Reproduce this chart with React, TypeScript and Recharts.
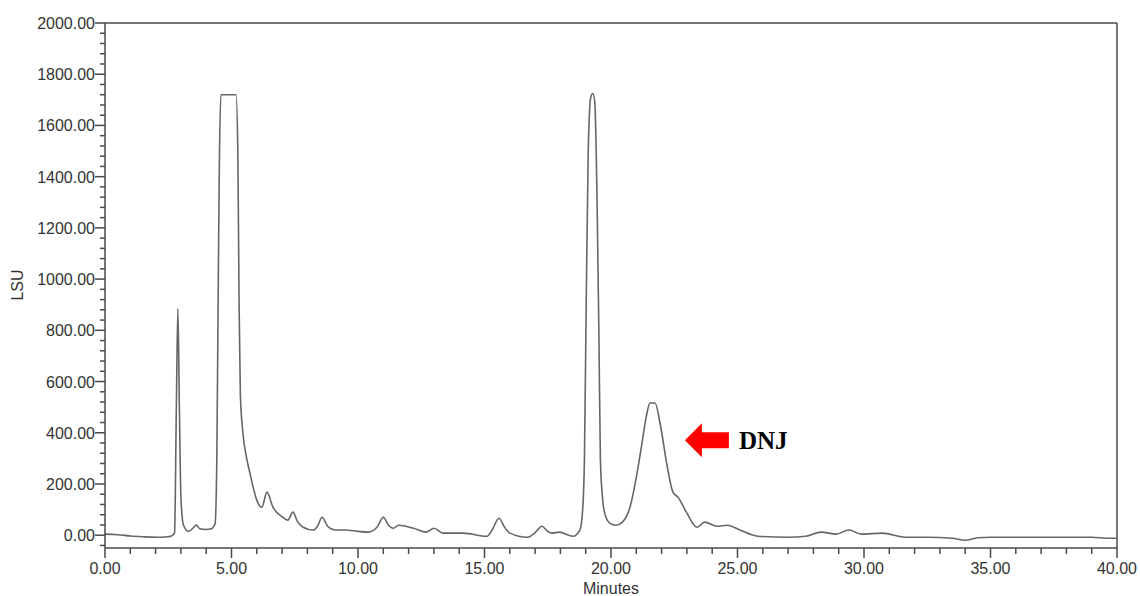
import { LineChart, Line, XAxis, YAxis, ReferenceLine, ReferenceDot } from "recharts";

// retention time (min) and detector response (LSU)
const minutes = [
  0, 0.5, 1, 1.5, 2, 2.4, 2.65, 2.75, 2.82, 2.88, 2.94, 3.0, 3.1, 3.3, 3.5, 3.6, 3.75, 4.0, 4.2, 4.35,
  4.42, 4.47, 4.52, 4.58, 5.18, 5.25, 5.3, 5.35, 5.45, 5.6, 5.73, 5.9, 6.0, 6.2, 6.4, 6.64, 7.03, 7.23,
  7.43, 7.6, 7.83, 8.22, 8.4, 8.58, 8.8, 9.1, 9.5, 10.0, 10.4, 10.75, 11.0, 11.2, 11.4, 11.6, 12.2,
  12.7, 13.0, 13.36, 14.15, 15.1, 15.3, 15.57, 15.8, 16.0, 16.7, 17.0, 17.27, 17.5, 17.67, 17.95,
  18.5, 18.77, 18.88, 18.95, 19.02, 19.1, 19.2, 19.28, 19.36, 19.45, 19.52, 19.58, 19.65, 19.75,
  19.95, 20.2, 20.45, 20.75, 21.03, 21.2, 21.42, 21.54, 21.74, 21.94, 22.2, 22.45, 22.65, 23.0,
  23.4, 23.7, 24.2, 24.6, 25.1, 25.8, 27.0, 27.7, 28.3, 28.9, 29.4, 29.9, 30.7, 31.7, 32.5, 33.5,
  34.0, 34.5, 35.0, 36.5, 37.5, 39.0, 39.7, 40.0,
];
const lsu = [
  4, 2, -3, -6, -8, -7, -2, 10, 500, 885, 500, 150, 40, 15, 30, 40, 25, 22, 25, 45,
  300, 900, 1450, 1720, 1720, 1500, 900, 550, 400, 300, 242, 170, 137, 109, 168, 109, 70, 59,
  90, 55, 31, 20, 35, 70, 35, 20, 20, 15, 12, 31, 70, 40, 27, 39, 27,
  12, 27, 8, 8, -4, 20, 66, 30, 8, -8, 10, 35, 15, 8, 12,
  -4, 20, 100, 300, 900, 1500, 1710, 1725, 1690, 1300, 800, 300, 164, 86,
  47, 39, 51, 109, 242, 344, 476, 516, 516, 437, 281, 168, 148, 86,
  31, 51, 35, 39, 20, -4, -8, -4, 12, 4, 20, 4, 8, -8, -8, -12,
  -20, -10, -8, -8, -8, -8, -12, -12,
];

const xTicks = Array.from({ length: 41 }, (_, i) => i);
const yTicks = Array.from({ length: 52 }, (_, i) => -40 + i * 40);

const data = minutes.map((t, i) => ({ t, v: lsu[i] }));

const AXIS = "#4a4a4a";
const LABEL = "#333";
const SANS = "'Liberation Sans', Arial, sans-serif";

function XTick({ x, y, payload }: any) {
  const v = payload.value as number;
  const major = v % 5 === 0;
  return (
    <g>
      <line x1={x} x2={x} y1={y} y2={y + (major ? 10 : 6)} stroke={AXIS} strokeWidth={1.5} />
      {major && (
        <text x={x} y={y + 26} textAnchor="middle" fill={LABEL} fontSize={16} fontFamily={SANS}>
          {v.toFixed(2)}
        </text>
      )}
    </g>
  );
}

function YTick({ x, y, payload }: any) {
  const v = payload.value as number;
  const major = v % 200 === 0;
  return (
    <g>
      <line x1={x - (major ? 10 : 5)} x2={x} y1={y} y2={y} stroke={AXIS} strokeWidth={1.5} />
      {major && (
        <text x={x - 10} y={y + 6} textAnchor="end" fill={LABEL} fontSize={16} fontFamily={SANS}>
          {v.toFixed(2)}
        </text>
      )}
    </g>
  );
}

function DnjArrow({ cx, cy }: any) {
  const pts = [
    [0, 0], [17, -17], [17, -8], [44, -8], [44, 8], [17, 8], [17, 17],
  ].map(([dx, dy]) => `${cx + dx},${cy + dy}`).join(" ");
  return (
    <g>
      <polygon points={pts} fill="#ff0000" />
      <text x={cx + 54} y={cy + 9} fill="#000" fontSize={25} fontWeight="bold"
        fontFamily="'Liberation Serif', 'Times New Roman', serif">
        DNJ
      </text>
    </g>
  );
}

export default function App() {
  return (
    <div style={{ position: "absolute", left: 0, top: 0, background: "#fff" }}>
      <LineChart width={1140} height={596} data={data}
        margin={{ top: 23, right: 23, bottom: 18, left: 5 }}>
        <XAxis dataKey="t" type="number" domain={[0, 40]} ticks={xTicks} interval={0}
          tick={<XTick />} tickLine={false} tickSize={0} tickMargin={0} height={30}
          axisLine={{ stroke: AXIS, strokeWidth: 1.5 }}
          label={(p: any) => (
            <text x={p.viewBox.x + p.viewBox.width / 2} y={p.viewBox.y + 46} textAnchor="middle"
              fill={LABEL} fontSize={16} fontFamily={SANS}>Minutes</text>
          )} />
        <YAxis type="number" domain={[-50, 2000]} ticks={yTicks} interval={0} allowDataOverflow
          tick={<YTick />} tickLine={false} tickSize={0} tickMargin={0} width={100}
          axisLine={{ stroke: AXIS, strokeWidth: 1.5 }}
          label={(p: any) => (
            <text x={p.viewBox.x + 18} y={285} textAnchor="middle" fill={LABEL} fontSize={16}
              fontFamily={SANS} transform={`rotate(-90, ${p.viewBox.x + 18}, 285)`}>LSU</text>
          )} />
        <ReferenceLine y={2000} stroke={AXIS} strokeWidth={1.5} />
        <ReferenceLine x={40} stroke={AXIS} strokeWidth={1.5} />
        <Line dataKey="v" type="monotone" stroke="#666" strokeWidth={1.6} dot={false}
          isAnimationActive={false} />
        <ReferenceDot x={22.92} y={371} r={0} shape={<DnjArrow />} />
      </LineChart>
    </div>
  );
}
